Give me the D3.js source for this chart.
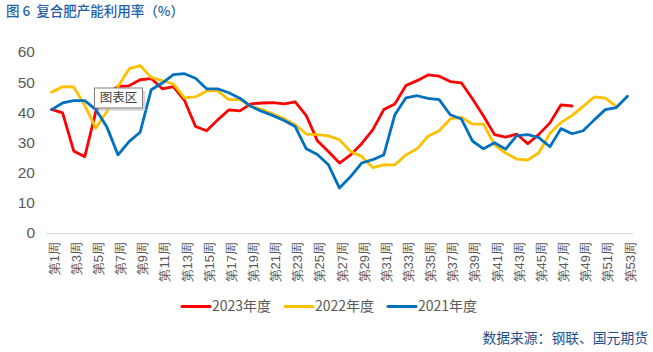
<!DOCTYPE html>
<html>
<head>
<meta charset="utf-8">
<script src="https://cdn.jsdelivr.net/npm/d3@7/dist/d3.min.js"></script>
<style>
  body { margin: 0; background: #fff; }
  svg { font-family: "Noto Sans CJK SC", "Noto Sans", sans-serif; }
</style>
</head>
<body>
<div id="chart-container"></div>
<script>
// week categories (第1周 ... 第53周)
const weeks = d3.range(1, 54);
const weekLabels = weeks.map((w) => `第${w}周`);
const yTicks = [0, 10, 20, 30, 40, 50, 60];

const seriesNames = ["2023年度", "2022年度", "2021年度"];
const seriesColors = ["#ff0000", "#ffc000", "#0070c0"];

// 复合肥产能利用率 (%)
const rate2023 = [
  41.0, 39.8, 27.2, 25.3, 40.3, 46.0, 48.6, 48.8, 50.8, 51.2,
  47.8, 48.5, 44.0, 35.3, 33.9, 37.5, 40.8, 40.5, 42.8, 43.1,
  43.2, 42.8, 43.5, 38.9, 30.6, 27.0, 23.2, 25.9, 29.6, 34.2,
  40.9, 42.8, 48.9, 50.5, 52.4, 52.0, 50.2, 49.8, 44.5, 38.8,
  32.6, 31.8, 32.8, 29.6, 32.7, 36.5, 42.5, 42.1,
];
const rate2022 = [
  46.7, 48.5, 48.4, 42.3, 34.8, 40.3, 48.6, 54.4, 55.5, 51.6,
  50.5, 49.4, 44.8, 45.1, 47.1, 47.1, 44.2, 44.2, 42.0, 40.9,
  39.4, 37.9, 35.9, 32.8, 32.6, 32.2, 30.9, 27.0, 25.4, 21.7,
  22.6, 22.6, 25.9, 27.9, 32.1, 33.9, 37.8, 38.4, 36.1, 36.1,
  29.2, 26.5, 24.5, 24.2, 26.6, 33.1, 36.6, 39.0, 42.0, 45.1,
  44.7, 42.0,
];
const rate2021 = [
  40.9, 43.1, 43.9, 43.9, 40.9, 35.1, 25.9, 30.3, 33.4, 47.5,
  49.7, 52.5, 52.8, 51.3, 47.8, 47.8, 46.5, 44.7, 42.0, 40.3,
  38.9, 37.3, 35.3, 27.9, 26.0, 22.6, 14.9, 18.7, 23.2, 24.3,
  25.9, 39.2, 44.8, 45.5, 44.6, 44.2, 39.2, 37.8, 30.5, 27.9,
  29.9, 27.8, 32.3, 32.6, 31.6, 28.6, 34.6, 32.9, 33.9, 37.5,
  40.9, 41.6, 45.3,
];

const seriesValues = [rate2023, rate2022, rate2021];

const width = 653;
const height = 352;
const margins = { top: 52, right: 20, bottom: 119, left: 46 };

const svg = d3
  .select("#chart-container")
  .append("svg")
  .attr("width", width)
  .attr("height", height)
  .attr("viewBox", [0, 0, width, height]);

// title
svg
  .append("text")
  .attr("x", 6)
  .attr("y", 16)
  .attr("fill", "#1f5fa8")
  .attr("font-size", 13.5)
  .attr("font-weight", 500)
  .attr("xml:space", "preserve")
  .text("图 6  复合肥产能利用率（%）");

const x = d3
  .scalePoint()
  .domain(weeks)
  .range([margins.left, 633])
  .padding(0.5);

const y = d3
  .scaleLinear()
  .domain([0, 60])
  .range([233, margins.top]);

// y axis: labels only
const yAxis = svg
  .append("g")
  .attr("transform", `translate(35,0)`)
  .call(d3.axisLeft(y).tickValues(yTicks).tickSize(0).tickPadding(0));
yAxis.select(".domain").remove();
yAxis
  .selectAll("text")
  .attr("fill", "#595959")
  .attr("font-size", 15.5)
  .attr("font-family", "Liberation Sans, Arial, sans-serif");

// x axis line
svg
  .append("line")
  .attr("x1", margins.left)
  .attr("x2", 633)
  .attr("y1", y(0) + 0.5)
  .attr("y2", y(0) + 0.5)
  .attr("stroke", "#d9d9d9")
  .attr("stroke-width", 1);

// x axis labels, every other week, rotated
const xAxis = svg
  .append("g")
  .attr("transform", `translate(0,${y(0)})`)
  .call(
    d3
      .axisBottom(x)
      .tickValues(weeks.filter((w) => w % 2 === 1))
      .tickFormat((w) => weekLabels[w - 1])
      .tickSize(0)
  );
xAxis.select(".domain").remove();
xAxis
  .selectAll("text")
  .attr("fill", "#595959")
  .attr("font-size", 13)
  .attr("text-anchor", "end")
  .attr("dy", "0.35em")
  .attr("transform", "translate(2,9) rotate(-90)")
  .attr("x", 0)
  .attr("y", 0);

// lines
const line = d3
  .line()
  .x((d, i) => x(weeks[i]))
  .y((d) => y(d));

svg
  .append("g")
  .selectAll("path")
  .data(seriesValues)
  .join("path")
  .attr("d", (d) => line(d))
  .attr("fill", "none")
  .attr("stroke", (d, i) => seriesColors[i])
  .attr("stroke-width", 2.8)
  .attr("stroke-linejoin", "round")
  .attr("stroke-linecap", "round");

// the leftover "图表区" hover box from the source screenshot
const tip = svg.append("g").attr("transform", "translate(94.5,88)");
tip
  .append("rect")
  .attr("x", 3)
  .attr("y", 3)
  .attr("width", 48)
  .attr("height", 20)
  .attr("fill", "#bfbfbf")
  .attr("opacity", 0.6);
tip
  .append("rect")
  .attr("width", 48)
  .attr("height", 20)
  .attr("fill", "#fff")
  .attr("stroke", "#808080")
  .attr("stroke-width", 1);
tip
  .append("text")
  .attr("x", 24)
  .attr("y", 10)
  .attr("dy", "0.35em")
  .attr("text-anchor", "middle")
  .attr("font-size", 12.5)
  .attr("fill", "#404040")
  .text("图表区");

// legend
const legendX = [182, 285, 388];
const legend = svg
  .append("g")
  .selectAll("g")
  .data(seriesNames)
  .join("g")
  .attr("transform", (d, i) => `translate(${legendX[i]},306.5)`);
legend
  .append("line")
  .attr("x1", 0)
  .attr("x2", 28)
  .attr("stroke", (d, i) => seriesColors[i])
  .attr("stroke-width", 3)
  .attr("stroke-linecap", "round");
legend
  .append("text")
  .attr("x", 30)
  .attr("dy", "0.35em")
  .attr("font-size", 14)
  .attr("fill", "#595959")
  .text((d) => d);

// source note
svg
  .append("text")
  .attr("x", 648)
  .attr("y", 338.5)
  .attr("dy", "0.35em")
  .attr("text-anchor", "end")
  .attr("font-size", 13.8)
  .attr("fill", "#1f4e8c")
  .text("数据来源：钢联、国元期货");
</script>
</body>
</html>
